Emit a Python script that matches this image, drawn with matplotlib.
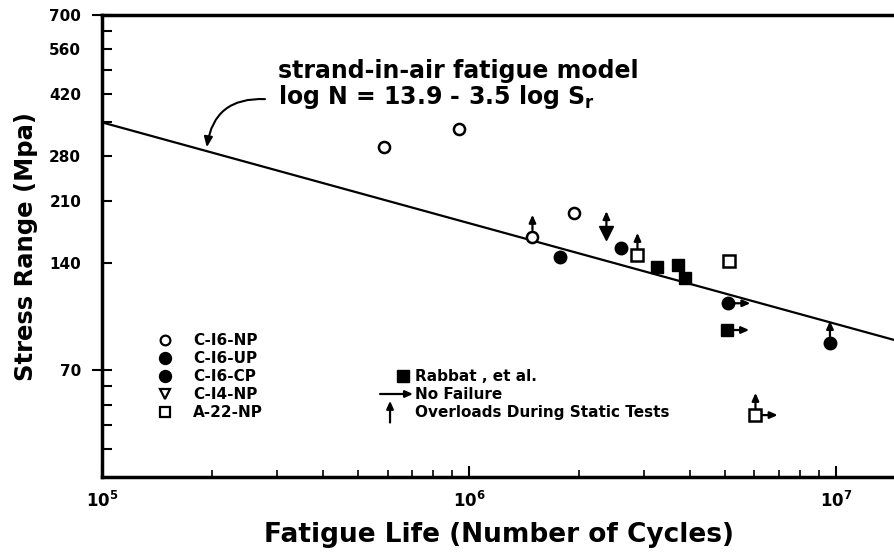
import matplotlib
matplotlib.use('Agg')
import matplotlib.pyplot as plt
from matplotlib.ticker import NullLocator, NullFormatter, LogLocator
from matplotlib.transforms import offset_copy

plt.rcParams['font.family'] = ['DejaVu Sans']
plt.rcParams['font.weight'] = 'bold'
plt.rcParams['axes.labelweight'] = 'bold'
plt.rcParams['mathtext.default'] = 'bf'

# fatigue life (cycles) and stress range (MPa)
c16np_N = [5.88e5, 9.4e5, 1.93e6, 1.49e6]
c16np_S = [297, 334, 194, 166]
c16up_N = [1.77e6, 2.59e6]
c16up_S = [145.6, 154.5]
c16cp_N = [5.09e6, 9.64e6]
c16cp_S = [108, 83.4]
c14np_N = [2.37e6]
c14np_S = [170]
a22np_N = [2.88e6, 5.12e6, 6.04e6]
a22np_S = [147.6, 142, 52.3]
rabbat_N = [3.26e6, 3.71e6, 3.88e6, 5.05e6]
rabbat_S = [136.5, 138, 127, 90.8]

# points flagged with arrows
overload_N = [1.49e6, 2.37e6, 2.88e6, 9.64e6, 6.04e6]
overload_S = [166, 170, 147.6, 83.4, 52.3]
nofail_N = [5.09e6, 5.05e6, 6.04e6]
nofail_S = [108, 90.8, 52.3]

# strand-in-air model line (log N = 13.9 - 3.5 log Sr), end points
model_N = [1e5, 1.45e7]
model_S = [349, 85]

y_ticks = [42, 49, 56, 63, 70, 140, 210, 280, 350, 420, 490, 560, 630, 700]
y_labels = ['', '', '', '', '70', '140', '210', '280', '', '420', '', '560', '', '700']
x_ticks = [1e5, 1e6, 1e7]
x_labels = ['$10^{5}$', '$10^{6}$', '$10^{7}$']

fig = plt.figure(figsize=(8.95, 5.53), dpi=100)
ax = fig.add_axes([0.114, 0.1374, 0.886, 0.8354])
ax.set_xscale('log')
ax.set_yscale('log')
ax.set_xlim(1e5, 1.45e7)
ax.set_ylim(35, 700)

ax.plot(model_N, model_S, color='black', lw=1.6, zorder=2)

mk = dict(linestyle='none', zorder=4, color='black')
ax.plot(c16np_N, c16np_S, marker='o', ms=8, mfc='white', mew=1.8, **mk)
ax.plot(c16up_N, c16up_S, marker='o', ms=9, **mk)
ax.plot(c16cp_N, c16cp_S, marker='o', ms=9, **mk)
ax.plot(c14np_N, c14np_S, marker='v', ms=10, **mk)
ax.plot(a22np_N, a22np_S, marker='s', ms=8, mfc='white', mew=1.8, **mk)
ax.plot(rabbat_N, rabbat_S, marker='s', ms=9, **mk)

arrow = dict(arrowstyle='-|>,head_length=0.45,head_width=0.2', color='black', lw=1.6,
             shrinkA=0, shrinkB=0)
up_tail = offset_copy(ax.transData, fig=fig, x=0, y=5, units='points')
up_tip = offset_copy(ax.transData, fig=fig, x=0, y=16, units='points')
for n, s in zip(overload_N, overload_S):
    ax.annotate('', xy=(n, s), xycoords=up_tip, xytext=(n, s), textcoords=up_tail,
                arrowprops=arrow, zorder=5)
rt_tail = offset_copy(ax.transData, fig=fig, x=5, y=0, units='points')
rt_tip = offset_copy(ax.transData, fig=fig, x=16, y=0, units='points')
for n, s in zip(nofail_N, nofail_S):
    ax.annotate('', xy=(n, s), xycoords=rt_tip, xytext=(n, s), textcoords=rt_tail,
                arrowprops=arrow, zorder=5)

# model label with curved pointer
ax.text(0.222, 0.864, 'strand-in-air fatigue model', transform=ax.transAxes,
        fontsize=17, va='baseline')
ax.text(0.222, 0.807, r'log N = 13.9 - 3.5 log S$_\mathbf{r}$', transform=ax.transAxes,
        fontsize=17, va='baseline')
ax.annotate('', xy=(1.93e5, 297), xytext=(0.2055, 0.818), textcoords='axes fraction',
            arrowprops=dict(arrowstyle='-|>,head_length=0.6,head_width=0.25', color='black',
                            lw=1.5, connectionstyle='arc3,rad=0.45', shrinkA=0, shrinkB=0))

# hand-made key
key_rows = [0.2965, 0.2576, 0.2186, 0.1797, 0.1407]
key_names = ['C-I6-NP', 'C-I6-UP', 'C-I6-CP', 'C-I4-NP', 'A-22-NP']
key_marks = [('o', 'white', 7), ('o', 'black', 8), ('o', 'black', 8), ('v', 'white', 7), ('s', 'white', 7)]
for yy, name, (m, fc, ms) in zip(key_rows, key_names, key_marks):
    ax.plot([0.0794], [yy], marker=m, mfc=fc, mec='black', mew=1.6, ms=ms,
            transform=ax.transAxes, clip_on=False)
    ax.text(0.1148, yy, name, transform=ax.transAxes, fontsize=11, va='center')

ax.plot([0.3796], [key_rows[2]], marker='s', color='black', ms=8, transform=ax.transAxes)
ax.text(0.3947, key_rows[2], 'Rabbat , et al.', transform=ax.transAxes, fontsize=11, va='center')
ax.annotate('', xy=(0.3922, key_rows[3]), xytext=(0.3506, key_rows[3]), xycoords='axes fraction',
            arrowprops=arrow)
ax.text(0.3947, key_rows[3], 'No Failure', transform=ax.transAxes, fontsize=11, va='center')
ax.annotate('', xy=(0.3632, 0.165), xytext=(0.3632, 0.118), xycoords='axes fraction',
            arrowprops=arrow)
ax.text(0.3947, key_rows[4], 'Overloads During Static Tests', transform=ax.transAxes,
        fontsize=11, va='center')

# axes styling
for side in ['left', 'bottom', 'top']:
    ax.spines[side].set_linewidth(2.5)
ax.spines['right'].set_visible(False)

ax.set_xticks(x_ticks)
ax.set_xticklabels(x_labels)
ax.xaxis.set_minor_locator(LogLocator(base=10, subs=range(2, 10)))
ax.xaxis.set_minor_formatter(NullFormatter())
ax.set_yticks(y_ticks)
ax.set_yticklabels(y_labels)
ax.yaxis.set_minor_locator(NullLocator())
ax.tick_params(axis='x', which='major', direction='in', length=8, width=1.5,
               labelsize=12, pad=10, top=False)
ax.tick_params(axis='x', which='minor', direction='in', length=5, width=1.2, top=False)
ax.tick_params(axis='y', which='major', direction='in', length=7, width=1.5,
               labelsize=11, pad=15)
# the 70 and 700 ticks cross the axis
ticks = ax.yaxis.get_major_ticks()
for i in (4, 13):
    ticks[i].tick1line.set_marker('_')
    ticks[i].tick1line.set_markersize(14)

ax.set_xlabel('Fatigue Life (Number of Cycles)', fontsize=19, fontweight='bold', labelpad=8)
ax.set_ylabel('Stress Range (Mpa)', fontsize=17.5, fontweight='bold', labelpad=8)

fig.savefig('out.png', dpi=100)
